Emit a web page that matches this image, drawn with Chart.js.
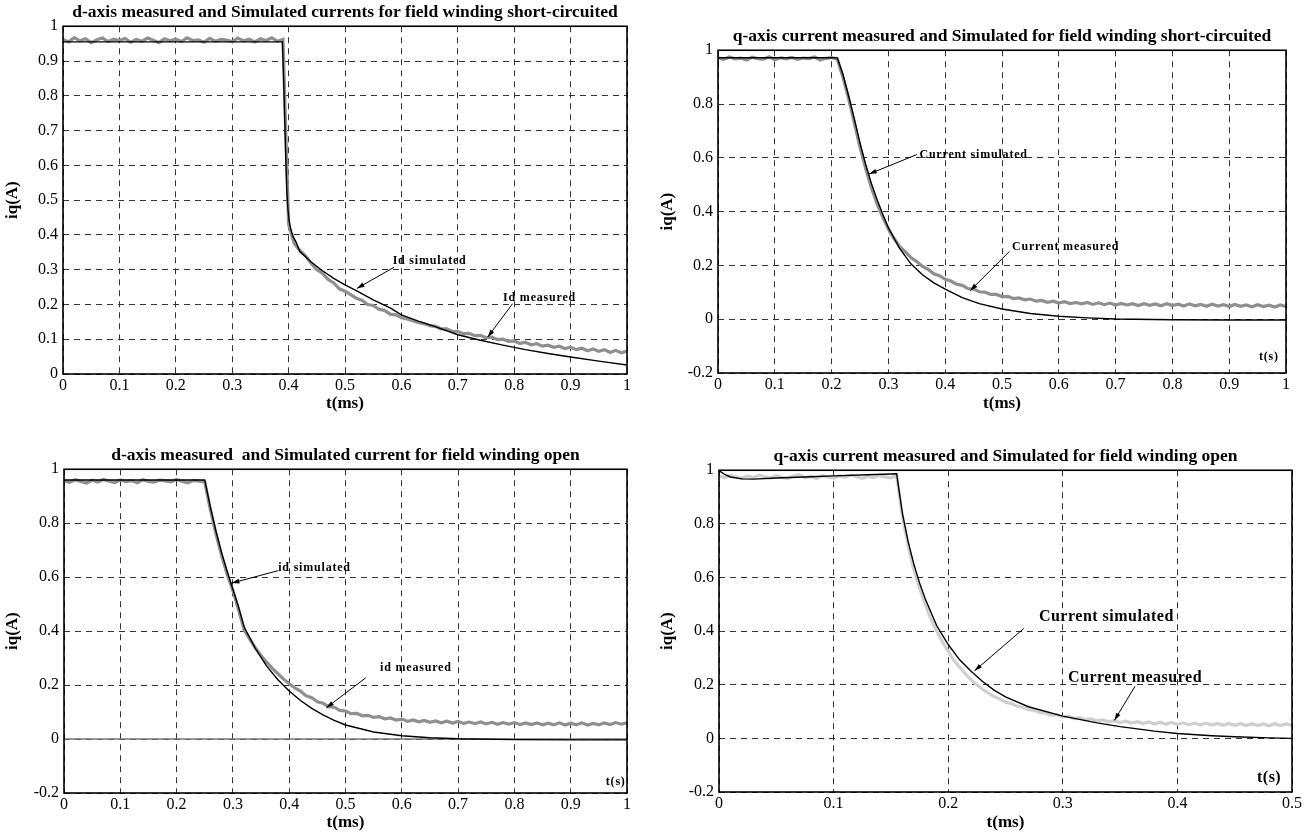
<!DOCTYPE html>
<html>
<head>
<meta charset="utf-8">
<script src="https://cdn.jsdelivr.net/npm/chart.js@4.4.1/dist/chart.umd.min.js"></script>
<style>
  body { margin: 0; background: #fff; }
  #wrap { position: relative; width: 1304px; height: 837px; }
  canvas { position: absolute; }
</style>
</head>
<body>
<div id="wrap">
  <canvas id="c1" width="652" height="418" style="left:0;top:0"></canvas>
  <canvas id="c2" width="652" height="418" style="left:652px;top:0"></canvas>
  <canvas id="c3" width="652" height="419" style="left:0;top:418px"></canvas>
  <canvas id="c4" width="652" height="419" style="left:652px;top:418px"></canvas>
</div>
<script>
// time grid of the measured traces (panels 1-3), ms
const tGrid = [
  0, 0.01, 0.02, 0.03, 0.04, 0.05, 0.06, 0.07, 0.08, 0.09,
  0.1, 0.11, 0.12, 0.13, 0.14, 0.15, 0.16, 0.17, 0.18, 0.19,
  0.2, 0.21, 0.22, 0.23, 0.24, 0.25, 0.26, 0.27, 0.28, 0.29,
  0.3, 0.31, 0.32, 0.33, 0.34, 0.35, 0.36, 0.37, 0.38, 0.39,
  0.4, 0.41, 0.42, 0.43, 0.44, 0.45, 0.46, 0.47, 0.48, 0.49,
  0.5, 0.51, 0.52, 0.53, 0.54, 0.55, 0.56, 0.57, 0.58, 0.59,
  0.6, 0.61, 0.62, 0.63, 0.64, 0.65, 0.66, 0.67, 0.68, 0.69,
  0.7, 0.71, 0.72, 0.73, 0.74, 0.75, 0.76, 0.77, 0.78, 0.79,
  0.8, 0.81, 0.82, 0.83, 0.84, 0.85, 0.86, 0.87, 0.88, 0.89,
  0.9, 0.91, 0.92, 0.93, 0.94, 0.95, 0.96, 0.97, 0.98, 0.99, 1
];
// time grid of panel 4 measured trace
const tGrid4 = [
  0, 0.005, 0.01, 0.015, 0.02, 0.025, 0.03, 0.035, 0.04, 0.045,
  0.05, 0.055, 0.06, 0.065, 0.07, 0.075, 0.08, 0.085, 0.09, 0.095,
  0.1, 0.105, 0.11, 0.115, 0.12, 0.125, 0.13, 0.135, 0.14, 0.145,
  0.15, 0.155, 0.16, 0.165, 0.17, 0.175, 0.18, 0.185, 0.19, 0.195,
  0.2, 0.205, 0.21, 0.215, 0.22, 0.225, 0.23, 0.235, 0.24, 0.245,
  0.25, 0.255, 0.26, 0.265, 0.27, 0.275, 0.28, 0.285, 0.29, 0.295,
  0.3, 0.305, 0.31, 0.315, 0.32, 0.325, 0.33, 0.335, 0.34, 0.345,
  0.35, 0.355, 0.36, 0.365, 0.37, 0.375, 0.38, 0.385, 0.39, 0.395,
  0.4, 0.405, 0.41, 0.415, 0.42, 0.425, 0.43, 0.435, 0.44, 0.445,
  0.45, 0.455, 0.46, 0.465, 0.47, 0.475, 0.48, 0.485, 0.49, 0.495, 0.5
];

// panel 1: d-axis, field winding short-circuited
const p1Meas = [
  0.962, 0.955, 0.967, 0.958, 0.964, 0.953, 0.961, 0.966, 0.956, 0.963,
  0.959, 0.965, 0.954, 0.962, 0.957, 0.966, 0.960, 0.953, 0.964, 0.958,
  0.963, 0.956, 0.967, 0.959, 0.961, 0.954, 0.965, 0.957, 0.962, 0.960,
  0.956, 0.966, 0.958, 0.963, 0.955, 0.964, 0.959, 0.967, 0.957, 0.962,
  0.43, 0.375, 0.355, 0.34, 0.318, 0.30, 0.29, 0.272, 0.262, 0.245,
  0.238, 0.228, 0.218, 0.212, 0.2, 0.197, 0.186, 0.183, 0.172, 0.17,
  0.162, 0.158, 0.153, 0.148, 0.145, 0.139, 0.137, 0.13, 0.13, 0.123,
  0.122, 0.116, 0.117, 0.11, 0.111, 0.104, 0.106, 0.099, 0.1, 0.094,
  0.095, 0.088, 0.091, 0.084, 0.087, 0.08, 0.083, 0.077, 0.08, 0.073,
  0.077, 0.07, 0.074, 0.067, 0.072, 0.065, 0.07, 0.062, 0.068, 0.061, 0.066
];
const p1SimT = [0, 0.389, 0.391, 0.393, 0.395, 0.397, 0.399, 0.401, 0.404, 0.408, 0.413, 0.42, 0.43, 0.44, 0.46, 0.48, 0.5, 0.52, 0.55, 0.58, 0.6, 0.63, 0.66, 0.7, 0.74, 0.78, 0.82, 0.86, 0.9, 0.95, 1];
const p1SimI = [0.955, 0.955, 0.86, 0.74, 0.62, 0.52, 0.47, 0.44, 0.415, 0.395, 0.38, 0.352, 0.337, 0.322, 0.297, 0.275, 0.256, 0.24, 0.213, 0.19, 0.17, 0.152, 0.136, 0.113, 0.097, 0.083, 0.07, 0.059, 0.049, 0.037, 0.026];

// panel 2: q-axis, field winding short-circuited
const p2Meas = [
  0.972, 0.966, 0.975, 0.968, 0.971, 0.964, 0.974, 0.969, 0.967, 0.976,
  0.965, 0.972, 0.968, 0.973, 0.966, 0.971, 0.969, 0.975, 0.964, 0.970,
  0.973, 0.967, 0.9, 0.82, 0.73, 0.64, 0.56, 0.49, 0.43, 0.38,
  0.335, 0.3, 0.27, 0.25, 0.228, 0.214, 0.196, 0.185, 0.169, 0.162,
  0.148, 0.142, 0.13, 0.126, 0.114, 0.112, 0.102, 0.101, 0.092, 0.092,
  0.084, 0.085, 0.077, 0.079, 0.072, 0.075, 0.067, 0.07, 0.063, 0.067,
  0.06, 0.065, 0.058, 0.062, 0.057, 0.062, 0.055, 0.061, 0.054, 0.06,
  0.053, 0.059, 0.053, 0.058, 0.051, 0.058, 0.052, 0.057, 0.05, 0.058,
  0.051, 0.056, 0.049, 0.057, 0.05, 0.055, 0.048, 0.056, 0.049, 0.054,
  0.047, 0.055, 0.048, 0.053, 0.046, 0.054, 0.047, 0.052, 0.045, 0.053, 0.047
];
const p2SimT = [0, 0.21, 0.22, 0.23, 0.24, 0.25, 0.26, 0.27, 0.28, 0.29, 0.3, 0.32, 0.34, 0.36, 0.38, 0.4, 0.43, 0.46, 0.5, 0.55, 0.6, 0.65, 0.7, 0.8, 0.9, 1];
const p2SimI = [0.972, 0.972, 0.91, 0.83, 0.745, 0.655, 0.575, 0.505, 0.445, 0.39, 0.34, 0.262, 0.205, 0.165, 0.135, 0.112, 0.08, 0.058, 0.038, 0.021, 0.011, 0.005, 0.001, -0.002, -0.003, -0.003];

// panel 3: d-axis, field winding open
const p3Meas = [
  0.958, 0.952, 0.961, 0.955, 0.949, 0.959, 0.953, 0.962, 0.956, 0.951,
  0.960, 0.954, 0.958, 0.950, 0.961, 0.955, 0.952, 0.960, 0.957, 0.953,
  0.962, 0.955, 0.950, 0.959, 0.956, 0.953, 0.85, 0.76, 0.68, 0.61,
  0.55, 0.48, 0.405, 0.37, 0.338, 0.31, 0.285, 0.262, 0.242, 0.222,
  0.205, 0.19, 0.178, 0.16, 0.153, 0.138, 0.133, 0.12, 0.118, 0.106,
  0.104, 0.094, 0.095, 0.086, 0.088, 0.08, 0.083, 0.075, 0.078, 0.07,
  0.074, 0.066, 0.071, 0.064, 0.069, 0.062, 0.067, 0.06, 0.066, 0.059,
  0.065, 0.058, 0.063, 0.057, 0.063, 0.056, 0.062, 0.055, 0.061, 0.055,
  0.061, 0.054, 0.06, 0.054, 0.06, 0.053, 0.059, 0.053, 0.06, 0.052,
  0.059, 0.053, 0.06, 0.052, 0.058, 0.053, 0.06, 0.054, 0.061, 0.055, 0.06
];
const p3SimT = [0, 0.25, 0.26, 0.27, 0.28, 0.29, 0.3, 0.31, 0.32, 0.34, 0.36, 0.38, 0.4, 0.42, 0.44, 0.46, 0.48, 0.5, 0.55, 0.6, 0.65, 0.7, 0.8, 0.9, 1];
const p3SimI = [0.96, 0.96, 0.86, 0.77, 0.69, 0.62, 0.555, 0.49, 0.415, 0.335, 0.27, 0.22, 0.178, 0.143, 0.114, 0.09, 0.069, 0.052, 0.026, 0.012, 0.005, 0.001, -0.002, -0.003, -0.003];
const p3ZeroT = [0, 1];
const p3ZeroI = [0, 0];

// panel 4: q-axis, field winding open
const p4Meas = [
  0.978, 0.972, 0.981, 0.975, 0.970, 0.979, 0.973, 0.982, 0.976, 0.971,
  0.980, 0.974, 0.969, 0.978, 0.983, 0.972, 0.977, 0.970, 0.980, 0.975,
  0.971, 0.979, 0.974, 0.982, 0.976, 0.970, 0.978, 0.973, 0.981, 0.975,
  0.972, 0.979, 0.83, 0.72, 0.63, 0.56, 0.5, 0.445, 0.4, 0.36,
  0.325, 0.29, 0.265, 0.24, 0.218, 0.2, 0.183, 0.17, 0.156, 0.147,
  0.135, 0.13, 0.12, 0.116, 0.107, 0.105, 0.096, 0.095, 0.087, 0.088,
  0.08, 0.082, 0.074, 0.077, 0.069, 0.073, 0.065, 0.069, 0.062, 0.066,
  0.059, 0.064, 0.057, 0.062, 0.055, 0.061, 0.054, 0.06, 0.053, 0.059,
  0.052, 0.058, 0.051, 0.057, 0.05, 0.057, 0.05, 0.056, 0.049, 0.056,
  0.049, 0.055, 0.048, 0.055, 0.048, 0.054, 0.047, 0.055, 0.048, 0.054, 0.048
];
const p4SimT = [0, 0.005, 0.01, 0.02, 0.03, 0.05, 0.08, 0.1, 0.13, 0.155, 0.16, 0.165, 0.17, 0.175, 0.18, 0.19, 0.2, 0.21, 0.22, 0.23, 0.24, 0.25, 0.27, 0.3, 0.33, 0.35, 0.38, 0.4, 0.43, 0.45, 0.48, 0.5];
const p4SimI = [0.998, 0.985, 0.975, 0.968, 0.967, 0.971, 0.976, 0.979, 0.983, 0.987, 0.84, 0.735, 0.65, 0.58, 0.52, 0.42, 0.35, 0.293, 0.25, 0.212, 0.18, 0.155, 0.118, 0.083, 0.058, 0.044, 0.027, 0.018, 0.01, 0.006, 0.002, 0];

// tick values
const xTicks10 = [0, 0.1, 0.2, 0.3, 0.4, 0.5, 0.6, 0.7, 0.8, 0.9, 1];
const xTicks5 = [0, 0.1, 0.2, 0.3, 0.4, 0.5];
const yTicks1 = [0, 0.1, 0.2, 0.3, 0.4, 0.5, 0.6, 0.7, 0.8, 0.9, 1];
const yTicks2 = [-0.2, 0, 0.2, 0.4, 0.6, 0.8, 1];

const FONT = "'Liberation Serif', 'Times New Roman', serif";

function pts(t, v) {
  return t.map((x, i) => ({ x: x, y: v[i] }));
}

function fmt(v) {
  return String(Math.round(v * 10) / 10);
}

// solid frame around the axes
const boxPlugin = {
  id: 'box',
  afterDraw(chart) {
    const a = chart.chartArea, ctx = chart.ctx;
    ctx.save();
    ctx.strokeStyle = '#000';
    ctx.lineWidth = 1.6;
    ctx.strokeRect(a.left, a.top, a.right - a.left, a.bottom - a.top);
    ctx.restore();
  }
};

// labels with arrows, placed in data units
function notesPlugin(notes, size, spacing) {
  return {
    id: 'notes',
    afterDatasetsDraw(chart) {
      const ctx = chart.ctx, sx = chart.scales.x, sy = chart.scales.y;
      ctx.save();
      ctx.fillStyle = '#000';
      ctx.strokeStyle = '#000';
      ctx.lineWidth = 1;
      ctx.font = 'bold ' + size + 'px ' + FONT;
      ctx.letterSpacing = spacing + 'px';
      ctx.textAlign = 'center';
      ctx.textBaseline = 'middle';
      notes.forEach(n => {
        ctx.fillText(n.text, sx.getPixelForValue(n.tx), sy.getPixelForValue(n.ty));
        if (n.arrow) {
          const x0 = sx.getPixelForValue(n.arrow[0]), y0 = sy.getPixelForValue(n.arrow[1]);
          const x1 = sx.getPixelForValue(n.arrow[2]), y1 = sy.getPixelForValue(n.arrow[3]);
          const ang = Math.atan2(y1 - y0, x1 - x0);
          ctx.beginPath();
          ctx.moveTo(x0, y0);
          ctx.lineTo(x1, y1);
          ctx.stroke();
          ctx.beginPath();
          ctx.moveTo(x1, y1);
          ctx.lineTo(x1 - 8 * Math.cos(ang - 0.3), y1 - 8 * Math.sin(ang - 0.3));
          ctx.lineTo(x1 - 8 * Math.cos(ang + 0.3), y1 - 8 * Math.sin(ang + 0.3));
          ctx.closePath();
          ctx.fill();
        }
      });
      ctx.restore();
    }
  };
}

function makeChart(id, p) {
  return new Chart(document.getElementById(id), {
    type: 'line',
    data: { datasets: p.datasets },
    options: {
      responsive: false,
      animation: false,
      devicePixelRatio: 1,
      layout: { autoPadding: false, padding: { top: p.padTop, right: p.padRight, left: 0, bottom: 0 } },
      plugins: {
        legend: { display: false },
        tooltip: { enabled: false },
        title: {
          display: true, text: p.title, fullSize: false, color: '#000',
          font: { family: FONT, size: 17.5, weight: 'bold', lineHeight: 1.1 },
          padding: { top: 0, bottom: 4 }
        }
      },
      scales: {
        x: {
          type: 'linear',
          min: p.xTicks[0],
          max: p.xTicks[p.xTicks.length - 1],
          afterBuildTicks: s => { s.ticks = p.xTicks.map(v => ({ value: v })); },
          afterFit: s => { s.height = p.xHeight; },
          ticks: { callback: fmt, color: '#000', font: { family: FONT, size: 16 }, padding: 2, maxRotation: 0, autoSkip: false },
          grid: { color: '#333', lineWidth: 1, drawTicks: false },
          border: { display: false, dash: [6, 5] },
          title: { display: true, text: 't(ms)', color: '#000', font: { family: FONT, size: 17, weight: 'bold' }, padding: { top: 0, bottom: 4 } }
        },
        y: {
          type: 'linear',
          min: p.yTicks[0],
          max: p.yTicks[p.yTicks.length - 1],
          afterBuildTicks: s => { s.ticks = p.yTicks.map(v => ({ value: v })); },
          afterFit: s => { s.width = p.yWidth; },
          ticks: { callback: fmt, color: '#000', font: { family: FONT, size: 16 }, padding: 5, autoSkip: false },
          grid: { color: '#333', lineWidth: 1, drawTicks: false },
          border: { display: false, dash: [6, 5] },
          title: { display: true, text: 'iq(A)', color: '#000', font: { family: FONT, size: 17, weight: 'bold' }, padding: { top: p.yTitlePad, bottom: 0 } }
        }
      }
    },
    plugins: [boxPlugin, notesPlugin(p.notes, p.noteSize, p.noteSpacing)]
  });
}

function simSet(t, v) {
  return { data: pts(t, v), borderColor: '#000', borderWidth: 1.4, pointRadius: 0, tension: 0, fill: false };
}
function measSet(t, v, color) {
  return { data: pts(t, v), borderColor: color, borderWidth: 3.2, pointRadius: 0, tension: 0, fill: false };
}

document.addEventListener('DOMContentLoaded', function () {
  makeChart('c1', {
    title: 'd-axis measured and Simulated currents for field winding short-circuited',
    padTop: 3, padRight: 25, yWidth: 63, xHeight: 44, yTitlePad: 2,
    xTicks: xTicks10, yTicks: yTicks1,
    datasets: [simSet(p1SimT, p1SimI), measSet(tGrid, p1Meas, '#8f8f8f')],
    noteSize: 12, noteSpacing: 0.8,
    notes: [
      { text: 'Id simulated', tx: 0.65, ty: 0.326, arrow: [0.587, 0.307, 0.521, 0.246] },
      { text: 'Id measured', tx: 0.845, ty: 0.22, arrow: [0.797, 0.202, 0.753, 0.106] }
    ]
  });

  makeChart('c2', {
    title: 'q-axis current measured and Simulated for field winding short-circuited',
    padTop: 27, padRight: 18, yWidth: 66, xHeight: 45, yTitlePad: 5,
    xTicks: xTicks10, yTicks: yTicks2,
    datasets: [simSet(p2SimT, p2SimI), measSet(tGrid, p2Meas, '#8f8f8f')],
    noteSize: 12, noteSpacing: 0.8,
    notes: [
      { text: 'Current simulated', tx: 0.45, ty: 0.61, arrow: [0.35, 0.612, 0.266, 0.54] },
      { text: 'Current measured', tx: 0.612, ty: 0.27, arrow: [0.513, 0.252, 0.444, 0.106] },
      { text: 't(s)', tx: 0.97, ty: -0.14 }
    ]
  });

  makeChart('c3', {
    title: 'd-axis measured  and Simulated current for field winding open',
    padTop: 28, padRight: 25, yWidth: 64, xHeight: 44, yTitlePad: 2,
    xTicks: xTicks10, yTicks: yTicks2,
    datasets: [
      simSet(p3SimT, p3SimI),
      measSet(tGrid, p3Meas, '#8f8f8f'),
      { data: pts(p3ZeroT, p3ZeroI), borderColor: '#777', borderWidth: 1.5, pointRadius: 0, fill: false }
    ],
    noteSize: 12, noteSpacing: 0.8,
    notes: [
      { text: 'id simulated', tx: 0.445, ty: 0.633, arrow: [0.38, 0.624, 0.298, 0.578] },
      { text: 'id measured', tx: 0.625, ty: 0.262, arrow: [0.536, 0.227, 0.466, 0.116] },
      { text: 't(s)', tx: 0.98, ty: -0.16 }
    ]
  });

  makeChart('c4', {
    title: 'q-axis current measured and Simulated for field winding open',
    padTop: 29, padRight: 11, yWidth: 67, xHeight: 45, yTitlePad: 5,
    xTicks: xTicks5, yTicks: yTicks2,
    datasets: [simSet(p4SimT, p4SimI), measSet(tGrid4, p4Meas, '#cfcfcf')],
    noteSize: 16, noteSpacing: 0.5,
    notes: [
      { text: 'Current simulated', tx: 0.338, ty: 0.455, arrow: [0.266, 0.41, 0.223, 0.252] },
      { text: 'Current measured', tx: 0.363, ty: 0.225, arrow: [0.363, 0.194, 0.345, 0.067] },
      { text: 't(s)', tx: 0.48, ty: -0.146 }
    ]
  });
});
</script>
</body>
</html>
